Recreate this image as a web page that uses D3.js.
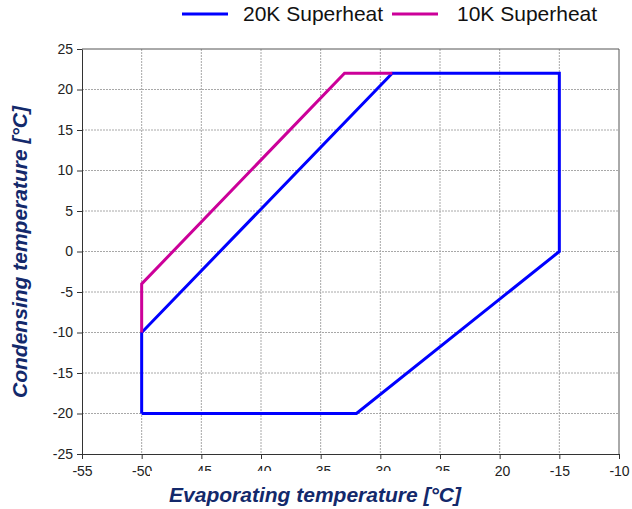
<!DOCTYPE html>
<html>
<head>
<meta charset="utf-8">
<script src="https://cdn.jsdelivr.net/npm/d3@7"></script>
<style>
	body { margin: 0; background: #fff; }
	svg { display: block; font-family: "Liberation Sans", Arial, sans-serif; }
</style>
</head>
<body>
<div id="chart"></div>
<script>
// envelope corners, [evaporating, condensing]
let sh20 = [[-50, -20], [-32, -20], [-15, 0], [-15, 22], [-29, 22], [-50, -10], [-50, -20]];
let sh10 = [[-50, -10], [-50, -4], [-33, 22], [-29, 22]];
let xTicks = [-55, -50, -45, -40, -35, -30, -25, -20, -15, -10];
let yTicks = [-25, -20, -15, -10, -5, 0, 5, 10, 15, 20, 25];
let seriesNames = ["20K Superheat", "10K Superheat"];
let seriesColors = ["#0000ff", "#cc0099"];

let canvasWidth	= 632;
let canvasHeight = 509;
let margin = { top: 49, right: 13, bottom: 55, left: 82 };
let width = canvasWidth - margin.left - margin.right;
let height = canvasHeight - margin.top - margin.bottom;

let svg = d3.select("#chart").append("svg")
	.attr("width", canvasWidth)
	.attr("height", canvasHeight);

let g = svg.append("g")
	.attr("transform", "translate(" + margin.left + "," + margin.top + ")");

let x = d3.scaleLinear().domain([-55, -10]).range([0, width]);
let y = d3.scaleLinear().domain([-25, 25]).range([height, 0]);

// grid
g.selectAll("line.vgrid")
	.data(xTicks.slice(1, -1))
	.enter().append("line")
	.attr("class", "vgrid")
	.attr("x1", (d) => x(d)).attr("x2", (d) => x(d))
	.attr("y1", 0).attr("y2", height)
	.attr("stroke", "#a8a8a8").attr("stroke-width", 1)
	.attr("stroke-dasharray", "2,1");

g.selectAll("line.hgrid")
	.data(yTicks.slice(1, -1))
	.enter().append("line")
	.attr("class", "hgrid")
	.attr("x1", 0).attr("x2", width)
	.attr("y1", (d) => y(d)).attr("y2", (d) => y(d))
	.attr("stroke", "#a8a8a8").attr("stroke-width", 1)
	.attr("stroke-dasharray", "2,1");

// plot border (right + top)
g.append("path")
	.attr("d", "M0,0H" + width + "V" + height)
	.attr("fill", "none").attr("stroke", "#555").attr("stroke-width", 1);

// axes
let fmt = (d) => String(d);
let xAxis = g.append("g")
	.attr("transform", "translate(0," + height + ")")
	.call(d3.axisBottom(x).tickValues(xTicks).tickFormat(fmt).tickSize(5).tickPadding(7).tickSizeOuter(0));
let yAxis = g.append("g")
	.call(d3.axisLeft(y).tickValues(yTicks).tickFormat(fmt).tickSize(5).tickPadding(4).tickSizeOuter(0));

[xAxis, yAxis].forEach((a) => {
	a.select(".domain").attr("stroke", "#333");
	a.selectAll(".tick line").attr("stroke", "#333");
	a.selectAll(".tick text")
		.attr("fill", "#222")
		.style("font-size", "14px")
		.style("font-family", "Liberation Sans, Arial, sans-serif");
});

// lines
let line = d3.line().x((d) => x(d[0])).y((d) => y(d[1]));

g.append("path")
	.datum(sh20)
	.attr("d", line)
	.attr("fill", "none")
	.attr("stroke", seriesColors[0])
	.attr("stroke-width", 3)
	.attr("stroke-linejoin", "miter");

g.append("path")
	.datum(sh10)
	.attr("d", line)
	.attr("fill", "none")
	.attr("stroke", seriesColors[1])
	.attr("stroke-width", 3);

// x title box sits on top of the tick labels
svg.append("rect")
	.attr("x", 150).attr("y", 471)
	.attr("width", 344).attr("height", 38)
	.attr("fill", "#fff");

svg.append("text")
	.attr("x", 315).attr("y", 502)
	.attr("text-anchor", "middle")
	.attr("fill", "#13296b")
	.style("font-size", "21px")
	.style("font-weight", "bold")
	.style("font-style", "italic")
	.text("Evaporating temperature [°C]");

svg.append("text")
	.attr("transform", "translate(27,252) rotate(-90)")
	.attr("text-anchor", "middle")
	.attr("fill", "#13296b")
	.style("font-size", "21px")
	.style("font-weight", "bold")
	.style("font-style", "italic")
	.text("Condensing temperature [°C]");

// legend
let legendX = [182, 392];
let legend = svg.selectAll("g.legend")
	.data(seriesNames)
	.enter().append("g")
	.attr("class", "legend")
	.attr("transform", (d, i) => "translate(" + legendX[i] + ",14)");

legend.append("line")
	.attr("x1", 0).attr("x2", 46)
	.attr("y1", 0).attr("y2", 0)
	.attr("stroke", (d, i) => seriesColors[i])
	.attr("stroke-width", 3);

legend.append("text")
	.attr("x", (d, i) => i == 0 ? 61 : 65)
	.attr("y", 7)
	.attr("fill", "#111")
	.style("font-size", "21px")
	.text((d) => d);
</script>
</body>
</html>
